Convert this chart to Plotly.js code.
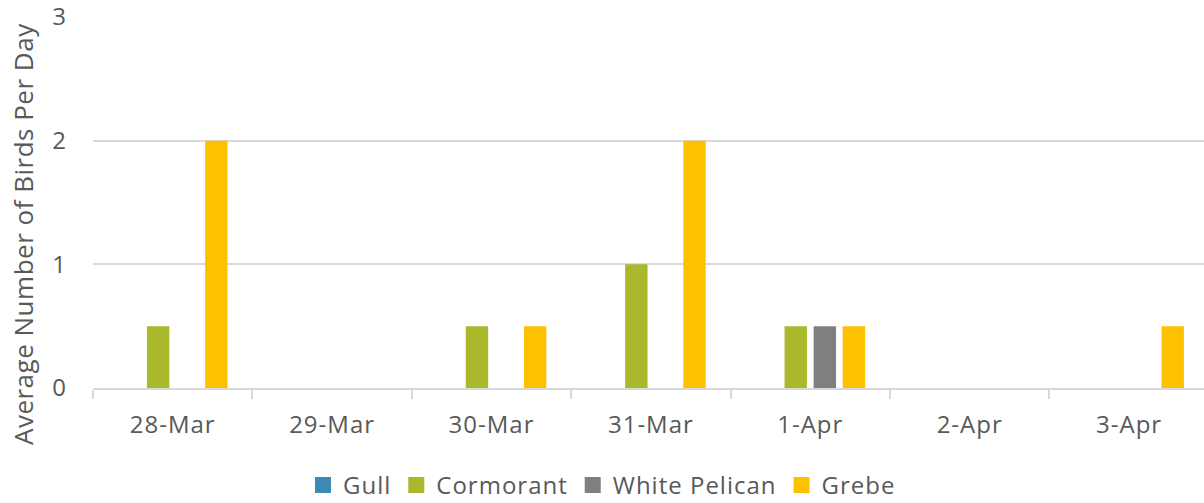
<!DOCTYPE html>
<html>
<head>
<meta charset="utf-8">
<script src="https://cdn.plot.ly/plotly-3.0.1.min.js"></script>
<style>
html,body{margin:0;padding:0;background:#fff;}
#chart{width:1204px;height:503px;}
svg text{letter-spacing:1px;}
svg text.annotation-text{letter-spacing:0.5px;}
.infolayer .legend .traces path{stroke-width:4px !important;stroke-opacity:1 !important;}
.infolayer .legend .traces:nth-of-type(1) path{stroke:#3F88B5 !important;}
.infolayer .legend .traces:nth-of-type(2) path{stroke:#A9B92B !important;}
.infolayer .legend .traces:nth-of-type(3) path{stroke:#7F7F7F !important;}
.infolayer .legend .traces:nth-of-type(4) path{stroke:#FFC000 !important;}
</style>
</head>
<body>
<div id="chart"></div>
<script>
const categories = ["28-Mar", "29-Mar", "30-Mar", "31-Mar", "1-Apr", "2-Apr", "3-Apr"];
const gull = [0, 0, 0, 0, 0, 0, 0];
const cormorant = [0.5, 0, 0.5, 1, 0.5, 0, 0];
const whitePelican = [0, 0, 0, 0, 0.5, 0, 0];
const grebe = [2, 0, 0.5, 2, 0.5, 0, 0.5];
const yTicks = [0, 1, 2, 3];
const yTitle = "Average Number of Birds Per Day";

const names = ["Gull", "Cormorant", "White Pelican", "Grebe"];
const colors = ["#3F88B5", "#A9B92B", "#7F7F7F", "#FFC000"];
const series = [gull, cormorant, whitePelican, grebe];

const traces = series.map((vals, i) => ({
  type: "bar",
  name: names[i],
  x: categories,
  y: vals,
  marker: {color: colors[i], line: {width: 0}},
  hoverinfo: "x+y+name"
}));

const font = {family: "Open Sans, Segoe UI, sans-serif", size: 24, color: "#595959"};

const layout = {
  width: 1204,
  height: 503,
  margin: {l: 93, r: 0, t: 17, b: 115, pad: 0},
  paper_bgcolor: "#ffffff",
  plot_bgcolor: "#ffffff",
  font: font,
  barmode: "group",
  bargap: 0.27,
  bargroupgap: 0.23,
  showlegend: true,
  legend: {
    orientation: "h",
    xref: "container", yref: "container",
    x: 0.5, xanchor: "center",
    y: 0.035, yanchor: "middle",
    font: font,
    traceorder: "normal",
    itemclick: false
  },
  annotations: [{
    text: yTitle,
    xref: "paper", yref: "paper",
    x: 0, y: 0.415,
    xshift: -70,
    xanchor: "center", yanchor: "middle",
    textangle: -90,
    showarrow: false,
    font: {family: font.family, size: 26, color: "#595959"}
  }],
  xaxis: {
    type: "category",
    range: [-0.5, 6.47],
    showgrid: false,
    showline: true,
    linecolor: "#D9D9D9",
    linewidth: 2,
    ticks: "outside",
    tickson: "boundaries",
    ticklen: 9,
    tickwidth: 2,
    tickcolor: "#D9D9D9",
    ticklabelstandoff: 14,
    ticklabeloverflow: "allow",
    tickfont: font,
    zeroline: false,
    fixedrange: true
  },
  yaxis: {
    range: [0, 3],
    tickvals: yTicks,
    ticktext: yTicks.map(String),
    showgrid: true,
    gridcolor: "#D9D9D9",
    gridwidth: 2,
    zeroline: false,
    showline: false,
    ticks: "",
    ticklabelstandoff: 25,
    ticklabeloverflow: "allow",
    tickfont: font,
    fixedrange: true
  }
};

Plotly.newPlot("chart", traces, layout, {displayModeBar: false, staticPlot: true});
</script>
</body>
</html>
